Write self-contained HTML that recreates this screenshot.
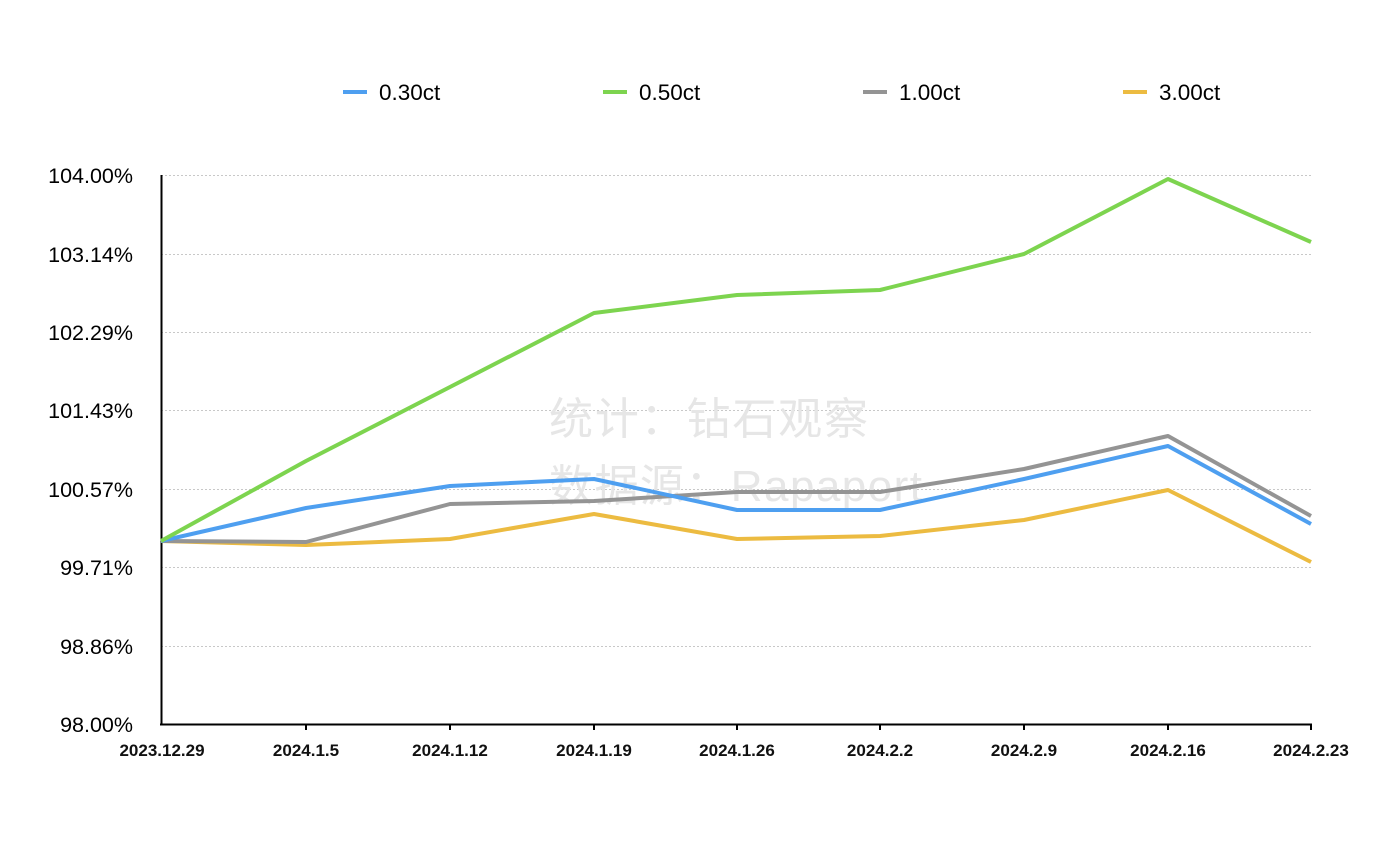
<!DOCTYPE html>
<html><head><meta charset="utf-8"><style>
html,body{margin:0;padding:0;background:#fff;}
svg{display:block;}
text{font-family:"Liberation Sans","Noto Sans CJK SC",sans-serif;}
</style></head><body>
<svg width="1397" height="844" viewBox="0 0 1397 844" xmlns="http://www.w3.org/2000/svg">
<g stroke="#c8c8c8" stroke-width="1" stroke-dasharray="2,2">
<line x1="161" y1="175.5" x2="1311" y2="175.5"/>
<line x1="161" y1="254.5" x2="1311" y2="254.5"/>
<line x1="161" y1="332.5" x2="1311" y2="332.5"/>
<line x1="161" y1="410.5" x2="1311" y2="410.5"/>
<line x1="161" y1="489.5" x2="1311" y2="489.5"/>
<line x1="161" y1="567.5" x2="1311" y2="567.5"/>
<line x1="161" y1="646.5" x2="1311" y2="646.5"/>
</g>
<g font-size="21.5" fill="#000" text-anchor="end">
<text x="133" y="183">104.00%</text>
<text x="133" y="262">103.14%</text>
<text x="133" y="340">102.29%</text>
<text x="133" y="418">101.43%</text>
<text x="133" y="497">100.57%</text>
<text x="133" y="575">99.71%</text>
<text x="133" y="654">98.86%</text>
<text x="133" y="732">98.00%</text>
</g>
<g font-size="44" fill="#e6e6e6">
<text x="549" y="434" textLength="319">统计：钻石观察</text>
<text x="549" y="501" textLength="373">数据源：Rapaport</text>
</g>
<line x1="161.5" y1="175" x2="161.5" y2="725" stroke="#000" stroke-width="2"/>
<line x1="160" y1="724.5" x2="1312" y2="724.5" stroke="#000" stroke-width="2"/>
<g stroke="#000" stroke-width="2">
<line x1="306" y1="724" x2="306" y2="730"/><line x1="450" y1="724" x2="450" y2="730"/>
<line x1="594" y1="724" x2="594" y2="730"/><line x1="737" y1="724" x2="737" y2="730"/>
<line x1="880" y1="724" x2="880" y2="730"/><line x1="1024" y1="724" x2="1024" y2="730"/>
<line x1="1168" y1="724" x2="1168" y2="730"/><line x1="1311" y1="724" x2="1311" y2="730"/>
</g>
<g font-size="17" font-weight="bold" fill="#111" text-anchor="middle">
<text x="162" y="756">2023.12.29</text><text x="306" y="756">2024.1.5</text>
<text x="450" y="756">2024.1.12</text><text x="594" y="756">2024.1.19</text>
<text x="737" y="756">2024.1.26</text><text x="880" y="756">2024.2.2</text>
<text x="1024" y="756">2024.2.9</text><text x="1168" y="756">2024.2.16</text>
<text x="1311" y="756">2024.2.23</text>
</g>
<g fill="none" stroke-width="4" stroke-linejoin="round">
<polyline stroke="#ecbb41" points="161,541 306,545 450,539 594,514 737,539 880,536 1024,520 1168,490 1311,562"/>
<polyline stroke="#949494" points="161,541 306,542 450,504 594,501 737,492 880,492 1024,469 1168,436 1311,516"/>
<polyline stroke="#4e9ff0" points="161,541 306,508 450,486 594,479 737,510 880,510 1024,479 1168,446 1311,524"/>
<polyline stroke="#7dd44f" points="161,541 306,461 450,387 594,313 737,295 880,290 1024,254 1168,179 1311,242"/>
</g>
<g stroke-width="4">
<line x1="343" y1="92" x2="367" y2="92" stroke="#4e9ff0"/>
<line x1="603" y1="92" x2="627" y2="92" stroke="#7dd44f"/>
<line x1="863" y1="92" x2="887" y2="92" stroke="#949494"/>
<line x1="1123" y1="92" x2="1147" y2="92" stroke="#ecbb41"/>
</g>
<g font-size="22.5" fill="#000">
<text x="379" y="100">0.30ct</text><text x="639" y="100">0.50ct</text>
<text x="899" y="100">1.00ct</text><text x="1159" y="100">3.00ct</text>
</g>
</svg>
</body></html>
